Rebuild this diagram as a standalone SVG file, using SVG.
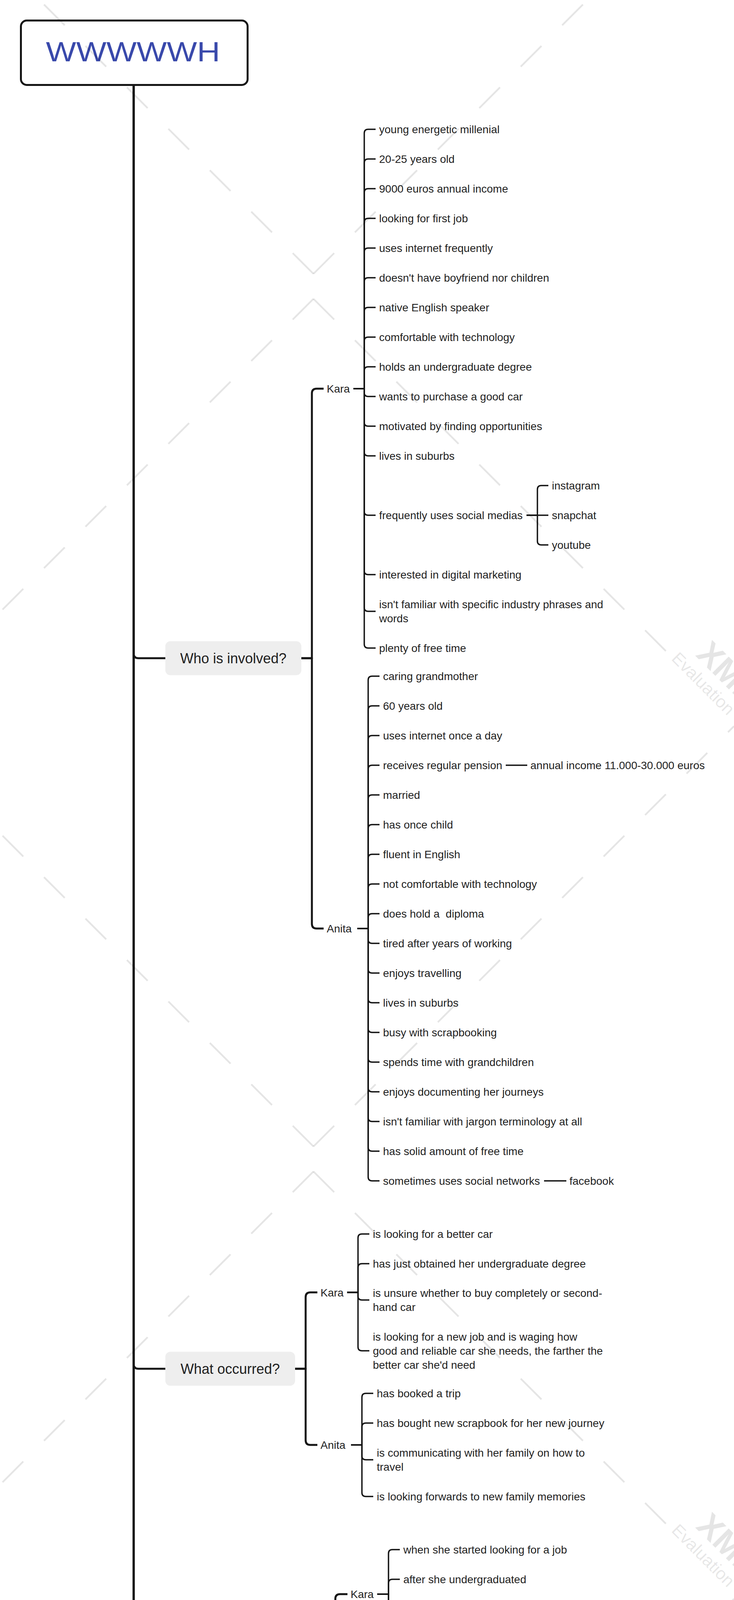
<svg xmlns="http://www.w3.org/2000/svg" width="1878" height="7084" viewBox="0 0 1878 7084">
<style>
.c1{fill:none;stroke:#151515;stroke-width:5;stroke-linejoin:round}
.c2{fill:none;stroke:#151515;stroke-width:3.5;stroke-linejoin:round}
.t{font-family:"Liberation Sans",Arial,sans-serif;font-size:28px;fill:#1f1f1f}
.m{font-family:"Liberation Sans",Arial,sans-serif;font-size:36px;fill:#1f1f1f;text-anchor:middle}
.box{fill:#eeeeee}
.wm{fill:none;stroke:#000;stroke-opacity:.1;stroke-width:4.5;stroke-dasharray:75 75}
.wt{font-family:"Liberation Sans",Arial,sans-serif;fill:#000;fill-opacity:.1}
</style>
<rect x="0" y="0" width="1878" height="7084" fill="#ffffff"/>
<g id="connectors">
<path class="c1" d="M342,220 V1673 Q342,1685 354,1685 H423"/>
<path class="c1" d="M342,220 V3492 Q342,3504 354,3504 H423"/>
<path class="c1" d="M342,220 V4232.5 Q342,4244.5 354,4244.5 H423"/>
<path class="c1" d="M342,220 V5126 Q342,5138 354,5138 H423"/>
<path class="c1" d="M342,220 V6039 Q342,6051 354,6051 H423"/>
<path class="c1" d="M342,220 V6784 Q342,6796 354,6796 H423"/>
<path class="c1" d="M771,1685 H798 V1007 Q798,995 810,995 H828"/>
<path class="c1" d="M771,1685 H798 V2365 Q798,2377 810,2377 H828"/>
<path class="c1" d="M755,3504 H782 V3320.5 Q782,3308.5 794,3308.5 H812"/>
<path class="c1" d="M755,3504 H782 V3687 Q782,3699 794,3699 H812"/>
<path class="c1" d="M833,4244.5 H858 V4093 Q858,4081 870,4081 H889"/>
<path class="c1" d="M833,4244.5 H858 V4396 Q858,4408 870,4408 H889"/>
<path class="c1" d="M811,5138 H838 V4905 Q838,4893 850,4893 H868"/>
<path class="c1" d="M811,5138 H838 V5371 Q838,5383 850,5383 H868"/>
<path class="c1" d="M779,6051 H806 V5891 Q806,5879 818,5879 H836"/>
<path class="c1" d="M779,6051 H806 V6212 Q806,6224 818,6224 H836"/>
<path class="c1" d="M811,6796 H838 V6672 Q838,6660 850,6660 H868"/>
<path class="c1" d="M811,6796 H838 V6920 Q838,6932 850,6932 H868"/>
<path class="c2" d="M904,995 H932 V341 Q932,331 942,331 H961"/>
<path class="c2" d="M904,995 H932 V417 Q932,407 942,407 H961"/>
<path class="c2" d="M904,995 H932 V493 Q932,483 942,483 H961"/>
<path class="c2" d="M904,995 H932 V569 Q932,559 942,559 H961"/>
<path class="c2" d="M904,995 H932 V645 Q932,635 942,635 H961"/>
<path class="c2" d="M904,995 H932 V721 Q932,711 942,711 H961"/>
<path class="c2" d="M904,995 H932 V797 Q932,787 942,787 H961"/>
<path class="c2" d="M904,995 H932 V873 Q932,863 942,863 H961"/>
<path class="c2" d="M904,995 H932 V949 Q932,939 942,939 H961"/>
<path class="c2" d="M904,995 H932 V1005 Q932,1015 942,1015 H961"/>
<path class="c2" d="M904,995 H932 V1081 Q932,1091 942,1091 H961"/>
<path class="c2" d="M904,995 H932 V1157 Q932,1167 942,1167 H961"/>
<path class="c2" d="M904,995 H932 V1309 Q932,1319 942,1319 H961"/>
<path class="c2" d="M904,995 H932 V1461 Q932,1471 942,1471 H961"/>
<path class="c2" d="M904,995 H932 V1555 Q932,1565 942,1565 H961"/>
<path class="c2" d="M904,995 H932 V1649 Q932,1659 942,1659 H961"/>
<path class="c2" d="M1347,1319 H1375 V1253 Q1375,1243 1385,1243 H1403"/>
<path class="c2" d="M1347,1319 H1403"/>
<path class="c2" d="M1347,1319 H1375 V1385 Q1375,1395 1385,1395 H1403"/>
<path class="c2" d="M914,2377 H942 V1741 Q942,1731 952,1731 H971"/>
<path class="c2" d="M914,2377 H942 V1817 Q942,1807 952,1807 H971"/>
<path class="c2" d="M914,2377 H942 V1893 Q942,1883 952,1883 H971"/>
<path class="c2" d="M914,2377 H942 V1969 Q942,1959 952,1959 H971"/>
<path class="c2" d="M914,2377 H942 V2045 Q942,2035 952,2035 H971"/>
<path class="c2" d="M914,2377 H942 V2121 Q942,2111 952,2111 H971"/>
<path class="c2" d="M914,2377 H942 V2197 Q942,2187 952,2187 H971"/>
<path class="c2" d="M914,2377 H942 V2273 Q942,2263 952,2263 H971"/>
<path class="c2" d="M914,2377 H942 V2349 Q942,2339 952,2339 H971"/>
<path class="c2" d="M914,2377 H942 V2405 Q942,2415 952,2415 H971"/>
<path class="c2" d="M914,2377 H942 V2481 Q942,2491 952,2491 H971"/>
<path class="c2" d="M914,2377 H942 V2557 Q942,2567 952,2567 H971"/>
<path class="c2" d="M914,2377 H942 V2633 Q942,2643 952,2643 H971"/>
<path class="c2" d="M914,2377 H942 V2709 Q942,2719 952,2719 H971"/>
<path class="c2" d="M914,2377 H942 V2785 Q942,2795 952,2795 H971"/>
<path class="c2" d="M914,2377 H942 V2861 Q942,2871 952,2871 H971"/>
<path class="c2" d="M914,2377 H942 V2937 Q942,2947 952,2947 H971"/>
<path class="c2" d="M914,2377 H942 V3013 Q942,3023 952,3023 H971"/>
<path class="c2" d="M1294,1959 H1349"/>
<path class="c2" d="M1392,3023 H1449"/>
<path class="c2" d="M888,3308.5 H916 V3169 Q916,3159 926,3159 H945"/>
<path class="c2" d="M888,3308.5 H916 V3245 Q916,3235 926,3235 H945"/>
<path class="c2" d="M888,3308.5 H916 V3318 Q916,3328 926,3328 H945"/>
<path class="c2" d="M888,3308.5 H916 V3448 Q916,3458 926,3458 H945"/>
<path class="c2" d="M898,3699 H926 V3577 Q926,3567 936,3567 H955"/>
<path class="c2" d="M898,3699 H926 V3653 Q926,3643 936,3643 H955"/>
<path class="c2" d="M898,3699 H926 V3727 Q926,3737 936,3737 H955"/>
<path class="c2" d="M898,3699 H926 V3821 Q926,3831 936,3831 H955"/>
<path class="c2" d="M965,4081 H994 V3977 Q994,3967 1004,3967 H1023"/>
<path class="c2" d="M965,4081 H994 V4053 Q994,4043 1004,4043 H1023"/>
<path class="c2" d="M965,4081 H994 V4109 Q994,4119 1004,4119 H1023"/>
<path class="c2" d="M965,4081 H994 V4185 Q994,4195 1004,4195 H1023"/>
<path class="c2" d="M976,4408 H1004 V4277 Q1004,4267 1014,4267 H1033"/>
<path class="c2" d="M976,4408 H1004 V4371 Q1004,4361 1014,4361 H1033"/>
<path class="c2" d="M976,4408 H1004 V4445 Q1004,4455 1014,4455 H1033"/>
<path class="c2" d="M976,4408 H1004 V4539 Q1004,4549 1014,4549 H1033"/>
<path class="c2" d="M944,4893 H972 V4713 Q972,4703 982,4703 H1000"/>
<path class="c2" d="M944,4893 H972 V4789 Q972,4779 982,4779 H1000"/>
<path class="c2" d="M944,4893 H972 V4865 Q972,4855 982,4855 H1000"/>
<path class="c2" d="M944,4893 H972 V4921 Q972,4931 982,4931 H1000"/>
<path class="c2" d="M944,4893 H972 V4997 Q972,5007 982,5007 H1000"/>
<path class="c2" d="M944,4893 H972 V5073 Q972,5083 982,5083 H1000"/>
<path class="c2" d="M954,5383 H982 V5165 Q982,5155 992,5155 H1011"/>
<path class="c2" d="M954,5383 H982 V5241 Q982,5231 992,5231 H1011"/>
<path class="c2" d="M954,5383 H982 V5317 Q982,5307 992,5307 H1011"/>
<path class="c2" d="M954,5383 H1011"/>
<path class="c2" d="M954,5383 H982 V5449 Q982,5459 992,5459 H1011"/>
<path class="c2" d="M954,5383 H982 V5525 Q982,5535 992,5535 H1011"/>
<path class="c2" d="M954,5383 H982 V5601 Q982,5611 992,5611 H1011"/>
<path class="c2" d="M912,5879 H941 V5757 Q941,5747 951,5747 H969"/>
<path class="c2" d="M912,5879 H941 V5851 Q941,5841 951,5841 H969"/>
<path class="c2" d="M912,5879 H941 V5925 Q941,5935 951,5935 H969"/>
<path class="c2" d="M912,5879 H941 V6001 Q941,6011 951,6011 H969"/>
<path class="c2" d="M923,6224 H952 V6093 Q952,6083 962,6083 H979"/>
<path class="c2" d="M923,6224 H952 V6187 Q952,6177 962,6177 H979"/>
<path class="c2" d="M923,6224 H952 V6261 Q952,6271 962,6271 H979"/>
<path class="c2" d="M923,6224 H952 V6355 Q952,6365 962,6365 H979"/>
<path class="c2" d="M944,6660 H972 V6547 Q972,6537 982,6537 H1000"/>
<path class="c2" d="M944,6660 H972 V6641 Q972,6631 982,6631 H1000"/>
<path class="c2" d="M944,6660 H972 V6697 Q972,6707 982,6707 H1000"/>
<path class="c2" d="M944,6660 H972 V6773 Q972,6783 982,6783 H1000"/>
<path class="c2" d="M954,6932 H982 V6866 Q982,6856 992,6856 H1011"/>
<path class="c2" d="M954,6932 H1011"/>
<path class="c2" d="M954,6932 H982 V6998 Q982,7008 992,7008 H1011"/>
</g>

<g id="root">
<rect x="53.5" y="52.5" width="580" height="165" rx="15" fill="#ffffff" stroke="#151515" stroke-width="5"/>
<text transform="translate(117.6,157.4) scale(1.17,1)" x="0" y="0" font-family="'Liberation Sans',Arial,sans-serif" font-size="70" fill="#3949ab">WWWWWH</text>
</g>

<g id="who">
<rect class="box" x="423" y="1641.5" width="348" height="87" rx="13"/>
<text class="m" x="597" y="1697.5">Who is involved?</text>
</g>
<g id="who-kara"><text class="t" x="836" y="1005">Kara</text></g>
<g id="who-kara-items">
<text class="t" x="970" y="341">young energetic millenial</text>
<text class="t" x="970" y="417">20-25 years old</text>
<text class="t" x="970" y="493">9000 euros annual income</text>
<text class="t" x="970" y="569">looking for first job</text>
<text class="t" x="970" y="645">uses internet frequently</text>
<text class="t" x="970" y="721">doesn't have boyfriend nor children</text>
<text class="t" x="970" y="797">native English speaker</text>
<text class="t" x="970" y="873">comfortable with technology</text>
<text class="t" x="970" y="949">holds an undergraduate degree</text>
<text class="t" x="970" y="1025">wants to purchase a good car</text>
<text class="t" x="970" y="1101">motivated by finding opportunities</text>
<text class="t" x="970" y="1177">lives in suburbs</text>
<text class="t" x="970" y="1329">frequently uses social medias</text>
<text class="t" x="970" y="1481">interested in digital marketing</text>
<text class="t"><tspan x="970" y="1557">isn't familiar with specific industry phrases and</tspan><tspan x="970" y="1593">words</tspan></text>
<text class="t" x="970" y="1669">plenty of free time</text>
</g>
<g id="who-kara-social">
<text class="t" x="1412" y="1253">instagram</text>
<text class="t" x="1412" y="1329">snapchat</text>
<text class="t" x="1412" y="1405">youtube</text>
</g>
<g id="who-anita"><text class="t" x="836" y="2387">Anita</text></g>
<g id="who-anita-items">
<text class="t" x="980" y="1741">caring grandmother</text>
<text class="t" x="980" y="1817">60 years old</text>
<text class="t" x="980" y="1893">uses internet once a day</text>
<text class="t" x="980" y="1969">receives regular pension</text>
<text class="t" x="980" y="2045">married</text>
<text class="t" x="980" y="2121">has once child</text>
<text class="t" x="980" y="2197">fluent in English</text>
<text class="t" x="980" y="2273">not comfortable with technology</text>
<text class="t" x="980" y="2349" xml:space="preserve" style="white-space:pre">does hold a  diploma</text>
<text class="t" x="980" y="2425">tired after years of working</text>
<text class="t" x="980" y="2501">enjoys travelling</text>
<text class="t" x="980" y="2577">lives in suburbs</text>
<text class="t" x="980" y="2653">busy with scrapbooking</text>
<text class="t" x="980" y="2729">spends time with grandchildren</text>
<text class="t" x="980" y="2805">enjoys documenting her journeys</text>
<text class="t" x="980" y="2881">isn't familiar with jargon terminology at all</text>
<text class="t" x="980" y="2957">has solid amount of free time</text>
<text class="t" x="980" y="3033">sometimes uses social networks</text>
</g>
<g id="who-anita-income"><text class="t" x="1357" y="1969">annual income 11.000-30.000 euros</text></g>
<g id="who-anita-facebook"><text class="t" x="1457" y="3033">facebook</text></g>

<g id="what">
<rect class="box" x="423" y="3460.5" width="332" height="87" rx="13"/>
<text class="m" x="589" y="3516.5">What occurred?</text>
</g>
<g id="what-kara"><text class="t" x="820" y="3318.5">Kara</text></g>
<g id="what-kara-items">
<text class="t" x="954" y="3169">is looking for a better car</text>
<text class="t" x="954" y="3245">has just obtained her undergraduate degree</text>
<text class="t"><tspan x="954" y="3320">is unsure whether to buy completely or second-</tspan><tspan x="954" y="3356">hand car</tspan></text>
<text class="t"><tspan x="954" y="3432">is looking for a new job and is waging how</tspan><tspan x="954" y="3468">good and reliable car she needs, the farther the</tspan><tspan x="954" y="3504">better car she'd need</tspan></text>
</g>
<g id="what-anita"><text class="t" x="820" y="3709">Anita</text></g>
<g id="what-anita-items">
<text class="t" x="964" y="3577">has booked a trip</text>
<text class="t" x="964" y="3653">has bought new scrapbook for her new journey</text>
<text class="t"><tspan x="964" y="3729">is communicating with her family on how to</tspan><tspan x="964" y="3765">travel</tspan></text>
<text class="t" x="964" y="3841">is looking forwards to new family memories</text>
</g>

<g id="when">
<rect class="box" x="423" y="4201" width="410" height="87" rx="13"/>
<text class="m" x="628" y="4257">When did it happen?</text>
</g>
<g id="when-kara"><text class="t" x="897" y="4091">Kara</text></g>
<g id="when-kara-items">
<text class="t" x="1032" y="3977">when she started looking for a job</text>
<text class="t" x="1032" y="4053">after she undergraduated</text>
<text class="t" x="1032" y="4129">since she became interested in cars</text>
<text class="t" x="1032" y="4205">after she talked with friends and family</text>
</g>
<g id="when-anita"><text class="t" x="897" y="4418">Anita</text></g>
<g id="when-anita-items">
<text class="t" x="1042" y="4277">when she saw a great offer</text>
<text class="t"><tspan x="1042" y="4353">when she heard a great story from her</tspan><tspan x="1042" y="4389">neighbour</tspan></text>
<text class="t" x="1042" y="4465">after some talks with friends and family</text>
<text class="t"><tspan x="1042" y="4541">after she realised that she hadn't travelled in</tspan><tspan x="1042" y="4577">few years</tspan></text>
</g>

<g id="where">
<rect class="box" x="423" y="5094.5" width="388" height="87" rx="13"/>
<text class="m" x="617" y="5150.5">Where did it occur?</text>
</g>
<g id="where-kara"><text class="t" x="876" y="4903">Kara</text></g>
<g id="where-kara-items">
<text class="t" x="1009" y="4713">at home</text>
<text class="t" x="1009" y="4789">in public space</text>
<text class="t" x="1009" y="4865">in car workshop</text>
<text class="t" x="1009" y="4941">during her family visits</text>
<text class="t" x="1009" y="5017">online</text>
<text class="t" x="1009" y="5093">after some talks with friends</text>
</g>
<g id="where-anita"><text class="t" x="876" y="5393">Anita</text></g>
<g id="where-anita-items">
<text class="t" x="1020" y="5165">at home</text>
<text class="t" x="1020" y="5241">in shopping centre</text>
<text class="t" x="1020" y="5317">at travel agency</text>
<text class="t" x="1020" y="5393">online</text>
<text class="t" x="1020" y="5469">while visiting the neighbour</text>
<text class="t" x="1020" y="5545">while relaxing and thinking about life in park</text>
<text class="t" x="1020" y="5621">at family reunions</text>
</g>

<g id="why">
<rect class="box" x="423" y="6007.5" width="356" height="87" rx="13"/>
<text class="m" x="601" y="6063.5">Why did it occur?</text>
</g>
<g id="why-kara"><text class="t" x="844" y="5889">Kara</text></g>
<g id="why-kara-items">
<text class="t" x="978" y="5757">because she is tired of driving old cars</text>
<text class="t"><tspan x="978" y="5833">because she wants to show that women are</tspan><tspan x="978" y="5869">strong and equally competent in "men" jobs</tspan></text>
<text class="t" x="978" y="5945">because she wants to earn some money</text>
<text class="t" x="978" y="6021">because she studied hard</text>
</g>
<g id="why-anita"><text class="t" x="844" y="6234">Anita</text></g>
<g id="why-anita-items">
<text class="t" x="988" y="6093">because she misses travelling</text>
<text class="t"><tspan x="988" y="6169">because she wants to bring her family together</tspan><tspan x="988" y="6205">again</tspan></text>
<text class="t" x="988" y="6281">because she had a lot of spare time</text>
<text class="t"><tspan x="988" y="6357">because she is getting older and older and is</tspan><tspan x="988" y="6393">aware that she might not be able to travel soon</tspan></text>
</g>

<g id="how">
<rect class="box" x="423" y="6752.5" width="388" height="87" rx="13"/>
<text class="m" x="617" y="6808.5">How did it happen?</text>
</g>
<g id="how-kara"><text class="t" x="876" y="6670">Kara</text></g>
<g id="how-kara-items">
<text class="t"><tspan x="1009" y="6529">after she released that some men judge</tspan><tspan x="1009" y="6565">women driving skills</tspan></text>
<text class="t" x="1009" y="6641">after she obtained car driving licence</text>
<text class="t" x="1009" y="6717">after she completed her education</text>
<text class="t" x="1009" y="6793">after considering job offers</text>
</g>
<g id="how-anita"><text class="t" x="876" y="6942">Anita</text></g>
<g id="how-anita-items">
<text class="t" x="1020" y="6866">after chatting with neighbours</text>
<text class="t" x="1020" y="6942">after thinking about her life</text>
<text class="t" x="1020" y="7018">while babysitting her grandchildren</text>
</g>

<g id="watermark">
<path class="wm" d="M802,701 L0,-101"/>
<path class="wm" d="M802,701 L1878,-375"/>
<path class="wm" d="M802,765 L0,1567"/>
<path class="wm" d="M802,765 L1704,1667"/>
<path class="wm" d="M802,2935 L0,2133"/>
<path class="wm" d="M802,2935 L1878,1859"/>
<path class="wm" d="M802,2999 L0,3801"/>
<path class="wm" d="M802,2999 L1704,3901"/>
<path class="wm" d="M802,5169 L0,4367"/>
<path class="wm" d="M802,5169 L1878,4093"/>
<path class="wm" d="M802,5233 L0,6035"/>
<path class="wm" d="M802,5233 L1704,6135"/>
<path class="wm" d="M802,7403 L0,6601"/>
<path class="wm" d="M802,7403 L1878,6327"/>
<text class="wt" font-size="44" transform="translate(1716,1688) rotate(45)">Evaluation</text>
<text class="wt" font-size="86" font-weight="bold" transform="translate(1778,1678) rotate(45)">XMind</text>
<text class="wt" font-size="44" transform="translate(1716,3920) rotate(45)">Evaluation</text>
<text class="wt" font-size="86" font-weight="bold" transform="translate(1778,3910) rotate(45)">XMind</text>
<text class="wt" font-size="44" transform="translate(1716,6152) rotate(45)">Evaluation</text>
<text class="wt" font-size="86" font-weight="bold" transform="translate(1778,6142) rotate(45)">XMind</text>
</g>
</svg>
